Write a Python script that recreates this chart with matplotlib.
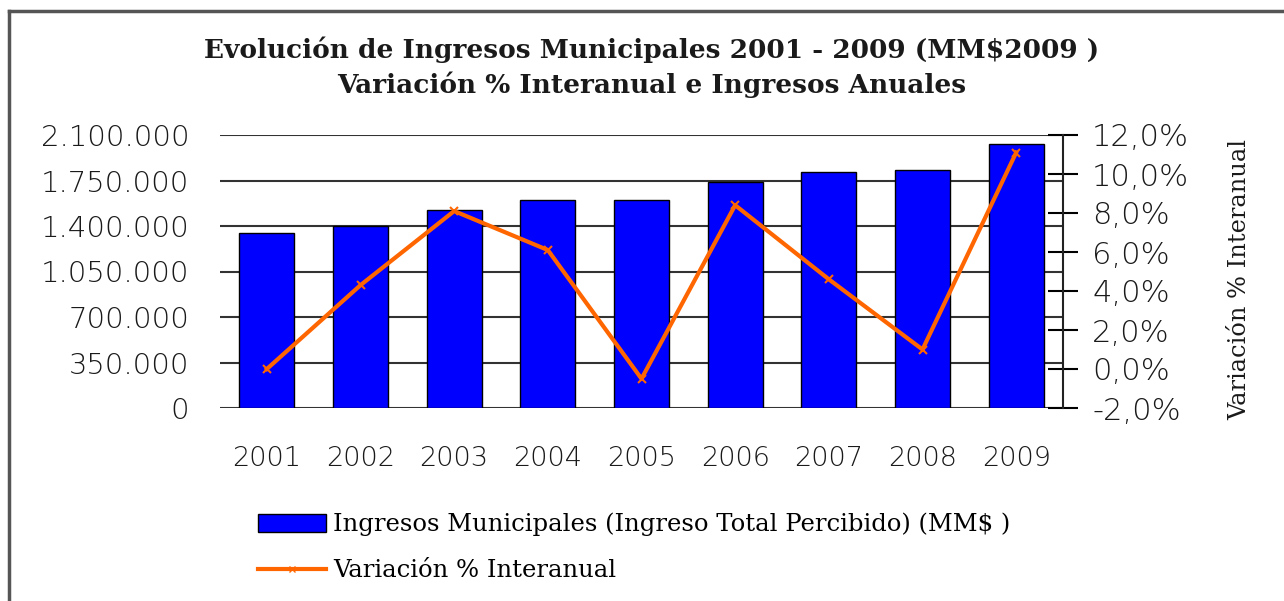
import matplotlib
matplotlib.use("Agg")
import matplotlib.pyplot as plt
from matplotlib.lines import Line2D
from matplotlib.patches import Patch
from matplotlib.ticker import FuncFormatter, FixedLocator

years = ["2001", "2002", "2003", "2004", "2005", "2006", "2007", "2008", "2009"]
ingresos = [1348000, 1400000, 1523000, 1600000, 1598000, 1741000, 1818000, 1831000, 2031000]
variacion = [0.0, 4.3, 8.1, 6.1, -0.5, 8.4, 4.6, 1.0, 11.1]

left_ticks = [0, 350000, 700000, 1050000, 1400000, 1750000, 2100000]
right_ticks = [-2, 0, 2, 4, 6, 8, 10, 12]

title_1 = "Evolución de Ingresos Municipales 2001 - 2009 (MM$2009 )"
title_2 = "Variación % Interanual e Ingresos Anuales"
bar_label = "Ingresos Municipales (Ingreso Total Percibido) (MM$ )"
line_label = "Variación % Interanual"

W, H = 1284, 601
fig = plt.figure(figsize=(W / 100, H / 100), dpi=100)

ax = fig.add_axes([220 / W, 1 - 408 / H, (1063 - 220) / W, (408 - 135) / H])
x = range(len(years))
ax.bar(x, ingresos, width=0.59, color="#0000FF", edgecolor="black", linewidth=1, zorder=2)
ax.set_xlim(-0.5, len(years) - 0.5)
ax.set_ylim(0, 2100000)
ax.yaxis.set_major_locator(FixedLocator(left_ticks))
ax.yaxis.set_major_formatter(FuncFormatter(lambda v, p: f"{int(v):,}".replace(",", ".")))
ax.set_xticks(list(x))
ax.set_xticklabels(years)
for s in ["top", "left", "right", "bottom"]:
    ax.spines[s].set_visible(False)
ax.grid(axis="y", color="#333333", linewidth=1.5, zorder=0)
ax.tick_params(axis="y", length=0, pad=22, labelsize=21, labelcolor="#1a1a1a")
ax.tick_params(axis="x", length=0, pad=27, labelsize=19.5, labelcolor="#1a1a1a")
for lab in ax.get_xticklabels() + ax.get_yticklabels():
    lab.set_fontweight("light")

ax2 = ax.twinx()
ax2.plot(x, variacion, color="#FF6600", linewidth=3, marker="x", markersize=6,
         markeredgewidth=1.5, zorder=3)
ax2.set_ylim(-2, 12)
ax2.yaxis.set_major_locator(FixedLocator(right_ticks))
ax2.yaxis.set_major_formatter(FuncFormatter(lambda v, p: f"{v:.1f}%".replace(".", ",")))
for s in ["top", "left", "bottom"]:
    ax2.spines[s].set_visible(False)
ax2.spines["right"].set_color("#222222")
ax2.spines["right"].set_linewidth(1.5)
ax2.tick_params(axis="y", direction="inout", length=22, width=1.5, pad=10,
                labelsize=22, labelcolor="#1a1a1a")
for lab in ax2.get_yticklabels():
    lab.set_fontweight("light")

serif = "DejaVu Serif"
fig.text(1240 / W, 1 - 280 / H, "Variación % Interanual", rotation=90, ha="center",
         va="center", fontsize=17.4, family=serif, color="#1a1a1a")

fig.text(652 / W, 1 - 50 / H, title_1, ha="center", va="center", fontsize=19,
         family=serif, fontweight="bold", color="#1a1a1a")
fig.text(652 / W, 1 - 85 / H, title_2, ha="center", va="center", fontsize=19,
         family=serif, fontweight="bold", color="#1a1a1a")

handles = [Patch(facecolor="#0000FF", edgecolor="black", linewidth=1),
           Line2D([], [], color="#FF6600", linewidth=3, marker="x", markersize=5)]
fig.legend(handles, [bar_label, line_label], loc="upper left",
           bbox_to_anchor=(236 / W, 1 - 491 / H), frameon=False,
           prop={"family": serif, "size": 17.5}, handlelength=2.8,
           handleheight=0.8, handletextpad=0.3, labelspacing=0.95)

fig.add_artist(Line2D([9 / W, 9 / W], [0, 1 - 11 / H], color="#555555", linewidth=2.5))
fig.add_artist(Line2D([9 / W, 1], [1 - 11 / H, 1 - 11 / H], color="#555555", linewidth=2.5))

fig.savefig("out.png", dpi=100)
